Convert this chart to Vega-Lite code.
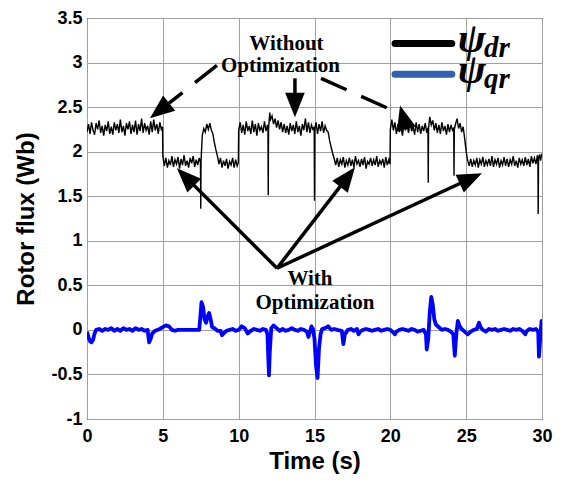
{
"$schema":"https://vega.github.io/schema/vega-lite/v6.json",
"width":455,"height":401,
"autosize":{"type":"none"},
"padding":{"left":87,"top":18,"right":24,"bottom":61},
"background":"white",
"config":{
"view":{"stroke":"black","strokeWidth":1},
"axis":{"grid":true,"gridColor":"#a0a0a0","gridWidth":1,"gridOpacity":1,"domain":false,"ticks":false,"labelFont":"Liberation Sans","labelFontWeight":"bold","labelFontSize":18,"labelColor":"black","titleFont":"Liberation Sans","titleFontWeight":"bold","titleFontSize":24,"titleColor":"black"},
"axisX":{"labelPadding":8,"titlePadding":4,"labelFlush":false},
"axisY":{"labelPadding":5,"titlePadding":12}
},
"datasets":{
"dr":[
{"t":0.0,"v":2.22},{"t":0.1,"v":2.31},{"t":0.2,"v":2.20},{"t":0.3,"v":2.33},{"t":0.4,"v":2.24},{"t":0.5,"v":2.19},{"t":0.6,"v":2.32},{"t":0.7,"v":2.25},{"t":0.8,"v":2.35},{"t":0.9,"v":2.21},
{"t":1.0,"v":2.29},{"t":1.1,"v":2.18},{"t":1.2,"v":2.30},{"t":1.3,"v":2.23},{"t":1.4,"v":2.34},{"t":1.5,"v":2.20},{"t":1.6,"v":2.28},{"t":1.7,"v":2.19},{"t":1.8,"v":2.33},{"t":1.9,"v":2.24},
{"t":2.0,"v":2.31},{"t":2.1,"v":2.21},{"t":2.2,"v":2.36},{"t":2.3,"v":2.22},{"t":2.4,"v":2.29},{"t":2.5,"v":2.18},{"t":2.6,"v":2.32},{"t":2.7,"v":2.25},{"t":2.8,"v":2.34},{"t":2.9,"v":2.20},
{"t":3.0,"v":2.30},{"t":3.1,"v":2.22},{"t":3.2,"v":2.35},{"t":3.3,"v":2.19},{"t":3.4,"v":2.31},{"t":3.5,"v":2.23},{"t":3.6,"v":2.37},{"t":3.7,"v":2.21},{"t":3.8,"v":2.32},{"t":3.9,"v":2.24},
{"t":4.0,"v":2.29},{"t":4.1,"v":2.19},{"t":4.2,"v":2.34},{"t":4.3,"v":2.22},{"t":4.4,"v":2.36},{"t":4.5,"v":2.24},{"t":4.6,"v":2.31},{"t":4.7,"v":2.20},{"t":4.8,"v":2.33},{"t":4.9,"v":2.25},
{"t":4.98,"v":2.28},{"t":5.0,"v":1.95},{"t":5.1,"v":1.84},{"t":5.2,"v":1.93},{"t":5.3,"v":1.82},{"t":5.4,"v":1.90},{"t":5.5,"v":1.85},{"t":5.6,"v":1.95},{"t":5.7,"v":1.83},{"t":5.8,"v":1.91},{"t":5.9,"v":1.86},
{"t":6.0,"v":1.94},{"t":6.1,"v":1.81},{"t":6.2,"v":1.92},{"t":6.3,"v":1.85},{"t":6.4,"v":1.96},{"t":6.5,"v":1.84},{"t":6.6,"v":1.90},{"t":6.7,"v":1.82},{"t":6.8,"v":1.93},{"t":6.9,"v":1.87},
{"t":7.0,"v":1.95},{"t":7.1,"v":1.83},{"t":7.2,"v":1.91},{"t":7.3,"v":1.85},{"t":7.4,"v":1.93},{"t":7.48,"v":1.88},{"t":7.5,"v":1.36},{"t":7.52,"v":1.90},{"t":7.6,"v":2.18},{"t":7.7,"v":2.26},
{"t":7.8,"v":2.22},{"t":7.9,"v":2.31},{"t":8.0,"v":2.25},{"t":8.1,"v":2.32},{"t":8.2,"v":2.24},{"t":8.3,"v":2.20},{"t":8.4,"v":2.10},{"t":8.5,"v":2.02},{"t":8.6,"v":1.95},{"t":8.7,"v":1.86},
{"t":8.8,"v":1.93},{"t":8.9,"v":1.82},{"t":9.0,"v":1.90},{"t":9.1,"v":1.84},{"t":9.2,"v":1.92},{"t":9.3,"v":1.81},{"t":9.4,"v":1.89},{"t":9.5,"v":1.85},{"t":9.6,"v":1.93},{"t":9.7,"v":1.82},
{"t":9.8,"v":1.91},{"t":9.9,"v":1.84},{"t":9.98,"v":1.88},{"t":10.0,"v":2.24},{"t":10.1,"v":2.33},{"t":10.2,"v":2.21},{"t":10.3,"v":2.30},{"t":10.4,"v":2.19},{"t":10.5,"v":2.34},{"t":10.6,"v":2.23},
{"t":10.7,"v":2.29},{"t":10.8,"v":2.20},{"t":10.9,"v":2.35},{"t":11.0,"v":2.22},{"t":11.1,"v":2.31},{"t":11.2,"v":2.18},{"t":11.3,"v":2.32},{"t":11.4,"v":2.24},{"t":11.5,"v":2.28},{"t":11.6,"v":2.21},
{"t":11.7,"v":2.34},{"t":11.8,"v":2.23},{"t":11.9,"v":2.30},{"t":11.93,"v":2.27},{"t":11.95,"v":1.51},{"t":11.97,"v":2.25},{"t":12.05,"v":2.44},{"t":12.1,"v":2.36},{"t":12.2,"v":2.40},{"t":12.3,"v":2.31},
{"t":12.4,"v":2.37},{"t":12.5,"v":2.27},{"t":12.6,"v":2.35},{"t":12.7,"v":2.25},{"t":12.8,"v":2.33},{"t":12.9,"v":2.22},{"t":13.0,"v":2.31},{"t":13.1,"v":2.21},{"t":13.2,"v":2.29},{"t":13.3,"v":2.19},
{"t":13.4,"v":2.32},{"t":13.5,"v":2.23},{"t":13.6,"v":2.30},{"t":13.7,"v":2.20},{"t":13.8,"v":2.34},{"t":13.9,"v":2.22},{"t":14.0,"v":2.29},{"t":14.1,"v":2.18},{"t":14.2,"v":2.31},{"t":14.3,"v":2.24},
{"t":14.4,"v":2.37},{"t":14.5,"v":2.22},{"t":14.6,"v":2.33},{"t":14.7,"v":2.21},{"t":14.8,"v":2.30},{"t":14.9,"v":2.25},{"t":14.98,"v":2.28},{"t":15.0,"v":1.45},{"t":15.02,"v":2.24},{"t":15.1,"v":2.33},
{"t":15.2,"v":2.20},{"t":15.3,"v":2.31},{"t":15.4,"v":2.23},{"t":15.5,"v":2.34},{"t":15.6,"v":2.21},{"t":15.7,"v":2.29},{"t":15.8,"v":2.24},{"t":15.9,"v":2.22},{"t":16.0,"v":2.12},{"t":16.1,"v":2.05},
{"t":16.2,"v":1.98},{"t":16.3,"v":1.92},{"t":16.4,"v":1.85},{"t":16.5,"v":1.93},{"t":16.6,"v":1.83},{"t":16.7,"v":1.91},{"t":16.8,"v":1.86},{"t":16.9,"v":1.94},{"t":17.0,"v":1.82},{"t":17.1,"v":1.90},
{"t":17.2,"v":1.85},{"t":17.3,"v":1.93},{"t":17.4,"v":1.84},{"t":17.5,"v":1.91},{"t":17.6,"v":1.82},{"t":17.7,"v":1.95},{"t":17.8,"v":1.86},{"t":17.9,"v":1.90},{"t":18.0,"v":1.83},{"t":18.1,"v":1.92},
{"t":18.2,"v":1.85},{"t":18.3,"v":1.94},{"t":18.4,"v":1.81},{"t":18.5,"v":1.89},{"t":18.6,"v":1.86},{"t":18.7,"v":1.93},{"t":18.8,"v":1.84},{"t":18.9,"v":1.91},{"t":19.0,"v":1.85},{"t":19.1,"v":1.95},
{"t":19.2,"v":1.83},{"t":19.3,"v":1.90},{"t":19.4,"v":1.86},{"t":19.5,"v":1.92},{"t":19.6,"v":1.82},{"t":19.7,"v":1.94},{"t":19.8,"v":1.85},{"t":19.9,"v":1.91},{"t":19.98,"v":1.86},{"t":20.0,"v":2.25},
{"t":20.1,"v":2.36},{"t":20.2,"v":2.24},{"t":20.3,"v":2.33},{"t":20.4,"v":2.20},{"t":20.5,"v":2.31},{"t":20.6,"v":2.22},{"t":20.7,"v":2.29},{"t":20.8,"v":2.18},{"t":20.9,"v":2.32},{"t":21.0,"v":2.24},
{"t":21.1,"v":2.30},{"t":21.2,"v":2.21},{"t":21.3,"v":2.34},{"t":21.4,"v":2.23},{"t":21.5,"v":2.28},{"t":21.6,"v":2.19},{"t":21.7,"v":2.33},{"t":21.8,"v":2.22},{"t":21.9,"v":2.31},{"t":22.0,"v":2.20},
{"t":22.1,"v":2.29},{"t":22.2,"v":2.23},{"t":22.3,"v":2.32},{"t":22.4,"v":2.21},{"t":22.48,"v":2.27},{"t":22.5,"v":1.65},{"t":22.52,"v":2.26},{"t":22.6,"v":2.39},{"t":22.7,"v":2.30},{"t":22.8,"v":2.35},
{"t":22.9,"v":2.24},{"t":23.0,"v":2.32},{"t":23.1,"v":2.21},{"t":23.2,"v":2.30},{"t":23.3,"v":2.20},{"t":23.4,"v":2.33},{"t":23.5,"v":2.23},{"t":23.6,"v":2.29},{"t":23.7,"v":2.19},{"t":23.8,"v":2.31},
{"t":23.9,"v":2.22},{"t":24.0,"v":2.30},{"t":24.1,"v":2.24},{"t":24.18,"v":2.27},{"t":24.2,"v":1.73},{"t":24.22,"v":2.25},{"t":24.3,"v":2.31},{"t":24.4,"v":2.37},{"t":24.5,"v":2.26},{"t":24.6,"v":2.32},
{"t":24.7,"v":2.22},{"t":24.8,"v":2.28},{"t":24.9,"v":2.15},{"t":25.0,"v":2.00},{"t":25.1,"v":1.90},{"t":25.2,"v":1.84},{"t":25.3,"v":1.92},{"t":25.4,"v":1.83},{"t":25.5,"v":1.90},{"t":25.6,"v":1.85},
{"t":25.7,"v":1.93},{"t":25.8,"v":1.82},{"t":25.9,"v":1.91},{"t":26.0,"v":1.86},{"t":26.1,"v":1.94},{"t":26.2,"v":1.83},{"t":26.3,"v":1.90},{"t":26.4,"v":1.85},{"t":26.5,"v":1.92},{"t":26.6,"v":1.84},
{"t":26.7,"v":1.95},{"t":26.8,"v":1.83},{"t":26.9,"v":1.91},{"t":27.0,"v":1.86},{"t":27.1,"v":1.93},{"t":27.2,"v":1.82},{"t":27.3,"v":1.90},{"t":27.4,"v":1.85},{"t":27.5,"v":1.94},{"t":27.6,"v":1.84},
{"t":27.7,"v":1.92},{"t":27.8,"v":1.83},{"t":27.9,"v":1.91},{"t":28.0,"v":1.86},{"t":28.1,"v":1.95},{"t":28.2,"v":1.84},{"t":28.3,"v":1.90},{"t":28.4,"v":1.82},{"t":28.5,"v":1.93},{"t":28.6,"v":1.86},
{"t":28.7,"v":1.91},{"t":28.8,"v":1.84},{"t":28.9,"v":1.94},{"t":29.0,"v":1.85},{"t":29.1,"v":1.92},{"t":29.2,"v":1.83},{"t":29.3,"v":1.95},{"t":29.4,"v":1.87},{"t":29.5,"v":1.93},{"t":29.6,"v":1.86},
{"t":29.7,"v":1.96},{"t":29.73,"v":1.90},{"t":29.75,"v":1.30},{"t":29.77,"v":1.92},{"t":29.85,"v":1.97},{"t":29.9,"v":1.90},{"t":30.0,"v":1.98}
],
"qr":[
{"t":0.0,"v":-0.02},{"t":0.1,"v":-0.08},{"t":0.2,"v":-0.13},{"t":0.3,"v":-0.14},{"t":0.4,"v":-0.11},{"t":0.5,"v":-0.04},{"t":0.6,"v":0.0},{"t":0.8,"v":0.01},{"t":1.0,"v":-0.01},{"t":1.2,"v":0.01},
{"t":1.4,"v":0.0},{"t":1.6,"v":0.02},{"t":1.8,"v":-0.01},{"t":2.0,"v":0.01},{"t":2.2,"v":-0.01},{"t":2.4,"v":0.02},{"t":2.6,"v":0.0},{"t":2.8,"v":0.01},{"t":3.0,"v":-0.01},{"t":3.2,"v":0.02},
{"t":3.4,"v":0.0},{"t":3.6,"v":0.01},{"t":3.8,"v":-0.01},{"t":4.0,"v":0.0},{"t":4.05,"v":-0.08},{"t":4.1,"v":-0.14},{"t":4.2,"v":-0.10},{"t":4.3,"v":-0.04},{"t":4.5,"v":-0.01},{"t":4.8,"v":0.01},
{"t":5.0,"v":0.03},{"t":5.2,"v":0.05},{"t":5.4,"v":0.04},{"t":5.6,"v":0.0},{"t":5.8,"v":-0.01},{"t":6.0,"v":0.0},{"t":6.5,"v":0.0},{"t":7.0,"v":0.0},{"t":7.4,"v":0.0},{"t":7.5,"v":0.20},
{"t":7.55,"v":0.31},{"t":7.65,"v":0.26},{"t":7.75,"v":0.12},{"t":7.85,"v":0.08},{"t":7.95,"v":0.15},{"t":8.05,"v":0.19},{"t":8.15,"v":0.12},{"t":8.25,"v":0.03},{"t":8.4,"v":0.02},{"t":8.6,"v":-0.01},
{"t":8.8,"v":-0.01},{"t":8.9,"v":-0.06},{"t":9.0,"v":-0.04},{"t":9.2,"v":-0.01},{"t":9.4,"v":0.0},{"t":9.6,"v":0.01},{"t":9.8,"v":-0.01},{"t":10.0,"v":0.0},{"t":10.2,"v":0.04},{"t":10.4,"v":0.02},
{"t":10.6,"v":-0.04},{"t":10.8,"v":-0.01},{"t":11.0,"v":0.01},{"t":11.2,"v":0.0},{"t":11.4,"v":-0.01},{"t":11.6,"v":0.01},{"t":11.8,"v":0.0},{"t":11.9,"v":-0.05},{"t":11.95,"v":-0.30},{"t":12.0,"v":-0.51},
{"t":12.05,"v":-0.25},{"t":12.15,"v":0.02},{"t":12.3,"v":0.05},{"t":12.5,"v":0.02},{"t":12.7,"v":-0.01},{"t":12.9,"v":0.01},{"t":13.1,"v":-0.01},{"t":13.3,"v":0.0},{"t":13.5,"v":0.02},{"t":13.7,"v":0.0},
{"t":13.9,"v":-0.01},{"t":14.1,"v":0.01},{"t":14.3,"v":0.0},{"t":14.5,"v":-0.02},{"t":14.6,"v":-0.08},{"t":14.7,"v":-0.02},{"t":14.8,"v":0.04},{"t":14.9,"v":0.01},{"t":15.0,"v":-0.10},{"t":15.1,"v":-0.40},
{"t":15.2,"v":-0.54},{"t":15.3,"v":-0.20},{"t":15.4,"v":-0.05},{"t":15.5,"v":0.01},{"t":15.7,"v":0.02},{"t":15.9,"v":0.04},{"t":16.1,"v":0.0},{"t":16.3,"v":0.01},{"t":16.5,"v":0.0},{"t":16.8,"v":-0.01},
{"t":16.9,"v":-0.16},{"t":17.0,"v":-0.05},{"t":17.2,"v":0.0},{"t":17.4,"v":0.01},{"t":17.6,"v":-0.01},{"t":17.8,"v":0.01},{"t":17.9,"v":-0.05},{"t":18.0,"v":-0.02},{"t":18.2,"v":0.0},{"t":18.4,"v":0.01},
{"t":18.6,"v":0.0},{"t":18.8,"v":-0.01},{"t":19.0,"v":0.0},{"t":19.2,"v":0.01},{"t":19.4,"v":-0.01},{"t":19.6,"v":0.0},{"t":19.8,"v":0.01},{"t":20.0,"v":0.0},{"t":20.2,"v":-0.03},{"t":20.3,"v":-0.05},
{"t":20.4,"v":-0.02},{"t":20.6,"v":0.0},{"t":20.8,"v":0.01},{"t":21.0,"v":0.0},{"t":21.2,"v":-0.01},{"t":21.4,"v":0.01},{"t":21.6,"v":0.0},{"t":21.8,"v":-0.02},{"t":22.0,"v":-0.01},{"t":22.2,"v":0.0},
{"t":22.35,"v":-0.05},{"t":22.4,"v":-0.22},{"t":22.5,"v":-0.10},{"t":22.6,"v":0.20},{"t":22.7,"v":0.37},{"t":22.8,"v":0.28},{"t":22.9,"v":0.12},{"t":23.0,"v":0.06},{"t":23.2,"v":0.03},{"t":23.4,"v":0.0},
{"t":23.6,"v":0.01},{"t":23.8,"v":0.0},{"t":24.0,"v":-0.02},{"t":24.15,"v":-0.05},{"t":24.25,"v":-0.29},{"t":24.35,"v":-0.05},{"t":24.45,"v":0.10},{"t":24.55,"v":0.05},{"t":24.7,"v":0.01},{"t":24.9,"v":-0.02},
{"t":25.1,"v":-0.05},{"t":25.3,"v":-0.02},{"t":25.5,"v":0.0},{"t":25.7,"v":0.01},{"t":25.85,"v":0.08},{"t":25.95,"v":0.03},{"t":26.1,"v":0.0},{"t":26.3,"v":-0.02},{"t":26.5,"v":0.01},{"t":26.7,"v":0.0},
{"t":26.9,"v":0.01},{"t":27.1,"v":-0.01},{"t":27.3,"v":0.0},{"t":27.5,"v":0.01},{"t":27.7,"v":0.0},{"t":27.9,"v":-0.01},{"t":28.1,"v":0.01},{"t":28.3,"v":0.0},{"t":28.5,"v":0.01},{"t":28.7,"v":-0.01},
{"t":28.9,"v":-0.05},{"t":29.0,"v":-0.01},{"t":29.2,"v":0.01},{"t":29.4,"v":0.0},{"t":29.6,"v":0.01},{"t":29.75,"v":-0.02},{"t":29.8,"v":-0.30},{"t":29.9,"v":-0.05},{"t":29.97,"v":0.10},{"t":30.0,"v":0.10}
],
"solid":[
{"t":13.71,"v":2.823,"t2":13.71,"v2":2.497},
{"t":12.53,"v":0.692,"t2":6.40,"v2":1.734},
{"t":12.53,"v":0.692,"t2":17.27,"v2":1.736},
{"t":12.53,"v":0.692,"t2":25.44,"v2":1.710}
],
"dashed":[
{"t":8.57,"v":2.969,"t2":4.67,"v2":2.444},
{"t":15.43,"v":2.823,"t2":19.85,"v2":2.486}
],
"heads":[
{"t":4.15,"v":2.374,"a":231.7},
{"t":13.71,"v":2.385,"a":180},
{"t":20.64,"v":2.519,"a":345},
{"t":5.93,"v":1.813,"a":315},
{"t":17.67,"v":1.824,"a":37.7},
{"t":26.04,"v":1.757,"a":65.1}
],
"notes":[
{"t":13.15,"v":3.146,"label":"Without"},
{"t":12.76,"v":2.894,"label":"Optimization"},
{"t":14.70,"v":0.500,"label":"With"},
{"t":15.03,"v":0.239,"label":"Optimization"}
],
"key":[
{"s":"dr","t":20.31,"t2":24.05,"v":3.213},
{"s":"qr","t":20.31,"t2":24.05,"v":2.868}
],
"psi":[
{"t":24.45,"v":3.115,"label":"ψ"},
{"t":24.45,"v":2.771,"label":"ψ"}
],
"sub":[
{"t":26.17,"v":3.059,"label":"dr"},
{"t":26.17,"v":2.715,"label":"qr"}
]
},
"layer":[
{"data":{"name":"dr"},"mark":{"type":"line","color":"black","strokeWidth":1.4,"clip":true},
"encoding":{
"x":{"field":"t","type":"quantitative","title":"Time (s)","scale":{"domain":[0,30],"nice":false,"zero":false},"axis":{"values":[0,5,10,15,20,25,30],"labelExpr":"'' + datum.value"}},
"y":{"field":"v","type":"quantitative","title":"Rotor flux (Wb)","scale":{"domain":[-1,3.5],"nice":false,"zero":false},"axis":{"values":[-1,-0.5,0,0.5,1,1.5,2,2.5,3,3.5],"labelExpr":"'' + datum.value"}}}},
{"data":{"name":"qr"},"mark":{"type":"line","color":"#0000FF","strokeWidth":3.8,"strokeJoin":"round","clip":true},
"encoding":{
"x":{"field":"t","type":"quantitative","title":"Time (s)"},
"y":{"field":"v","type":"quantitative","title":"Rotor flux (Wb)"}}},
{"data":{"name":"solid"},"mark":{"type":"rule","color":"black","strokeWidth":3.5},
"encoding":{
"x":{"field":"t","type":"quantitative","title":"Time (s)"},"x2":{"field":"t2"},
"y":{"field":"v","type":"quantitative","title":"Rotor flux (Wb)"},"y2":{"field":"v2"}}},
{"data":{"name":"dashed"},"mark":{"type":"rule","color":"black","strokeWidth":3.5,"strokeDash":[28,16]},
"encoding":{
"x":{"field":"t","type":"quantitative","title":"Time (s)"},"x2":{"field":"t2"},
"y":{"field":"v","type":"quantitative","title":"Rotor flux (Wb)"},"y2":{"field":"v2"}}},
{"data":{"name":"heads"},"mark":{"type":"point","shape":"M0,0L-0.8,2L0.8,2Z","filled":true,"color":"black","opacity":1,"size":600,"strokeWidth":0},
"encoding":{
"x":{"field":"t","type":"quantitative","title":"Time (s)"},
"y":{"field":"v","type":"quantitative","title":"Rotor flux (Wb)"},
"angle":{"field":"a","type":"quantitative","scale":null}}},
{"data":{"name":"notes"},"mark":{"type":"text","font":"Liberation Serif","fontWeight":"bold","fontSize":21,"align":"center","baseline":"alphabetic","color":"black"},
"encoding":{
"x":{"field":"t","type":"quantitative","title":"Time (s)"},
"y":{"field":"v","type":"quantitative","title":"Rotor flux (Wb)"},
"text":{"field":"label"}}},
{"data":{"name":"key"},"mark":{"type":"rule","strokeWidth":7,"strokeCap":"round"},
"encoding":{
"x":{"field":"t","type":"quantitative","title":"Time (s)"},"x2":{"field":"t2"},
"y":{"field":"v","type":"quantitative","title":"Rotor flux (Wb)"},
"color":{"field":"s","type":"nominal","scale":{"domain":["dr","qr"],"range":["#000000","#2F62AE"]},"legend":null}}},
{"data":{"name":"psi"},"mark":{"type":"text","font":"Liberation Serif","fontWeight":"bold","fontStyle":"italic","fontSize":42,"align":"left","baseline":"alphabetic","color":"black"},
"encoding":{
"x":{"field":"t","type":"quantitative","title":"Time (s)"},
"y":{"field":"v","type":"quantitative","title":"Rotor flux (Wb)"},
"text":{"field":"label"}}},
{"data":{"name":"sub"},"mark":{"type":"text","font":"Liberation Serif","fontWeight":"bold","fontStyle":"italic","fontSize":29,"align":"left","baseline":"alphabetic","color":"black"},
"encoding":{
"x":{"field":"t","type":"quantitative","title":"Time (s)"},
"y":{"field":"v","type":"quantitative","title":"Rotor flux (Wb)"},
"text":{"field":"label"}}}
]
}
